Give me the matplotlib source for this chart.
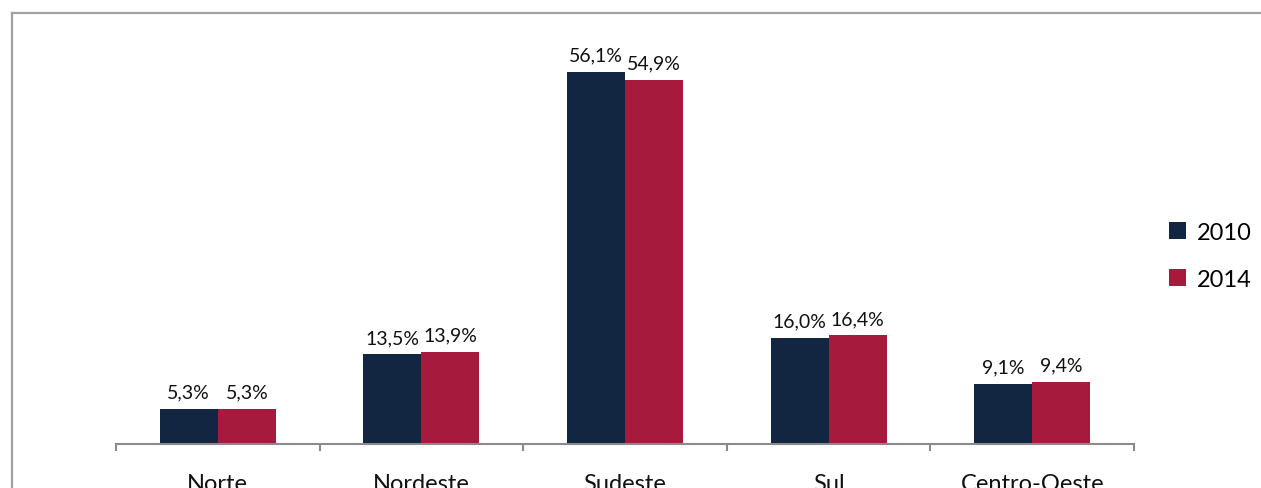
import matplotlib
matplotlib.use("Agg")
import matplotlib.pyplot as plt
import numpy as np
from matplotlib.lines import Line2D

plt.rcParams['font.family'] = ['Lato', 'DejaVu Sans']

regions = ['Norte', 'Nordeste', 'Sudeste', 'Sul', 'Centro-Oeste']
years = ['2010', '2014']
share_2010 = [5.3, 13.5, 56.1, 16.0, 9.1]
share_2014 = [5.3, 13.9, 54.9, 16.4, 9.4]

colors = ['#122642', '#a61a3e']

W, H = 1261, 489
fig = plt.figure(figsize=(W / 100, H / 100), dpi=100)
ax = fig.add_axes([116 / W, 1 - 445 / H, (1134 - 116) / W, (445 - 47) / H])

x = np.arange(len(regions))
bw = 0.285
for i, (vals, col, lab) in enumerate(zip([share_2010, share_2014], colors, years)):
    pos = x + (i - 0.5) * bw
    bars = ax.bar(pos, vals, width=bw, color=col, label=lab, zorder=2)
    for b, v in zip(bars, vals):
        ax.annotate(f"{v:.1f}%".replace('.', ','),
                    (b.get_x() + b.get_width() / 2, v),
                    xytext=(0, 6), textcoords='offset points',
                    ha='center', va='bottom', fontsize=14, color='#111111')

ax.set_xlim(-0.5, len(regions) - 0.5)
ax.set_ylim(0, 60)
for s in ['top', 'right', 'left']:
    ax.spines[s].set_visible(False)
ax.spines['bottom'].set_color('#8a8a8a')
ax.spines['bottom'].set_linewidth(1.5)
ax.set_yticks([])

ax.set_xticks(x)
ax.set_xticklabels(regions, fontsize=17, color='#111111')
ax.tick_params(axis='x', which='major', length=0, pad=21)
ax.set_xticks(np.arange(-0.5, len(regions)), minor=True)
ax.tick_params(axis='x', which='minor', length=5, width=1.5, color='#8a8a8a', direction='out')

leg = fig.legend(loc='upper left', bbox_to_anchor=(1169 / W, 1 - 223 / H),
                 frameon=False, fontsize=17, borderpad=0, borderaxespad=0,
                 handlelength=0.72, handleheight=0.72,
                 handletextpad=0.45, labelspacing=1.1)

# outer chart frame (cropped at right and bottom)
grey = '#a0a0a0'
fig.add_artist(Line2D([12 / W, 1.0], [1 - 14 / H, 1 - 14 / H], color=grey, lw=1.6))
fig.add_artist(Line2D([12 / W, 12 / W], [0.0, 1 - 14 / H], color=grey, lw=1.6))

fig.savefig('out.png', dpi=100)
